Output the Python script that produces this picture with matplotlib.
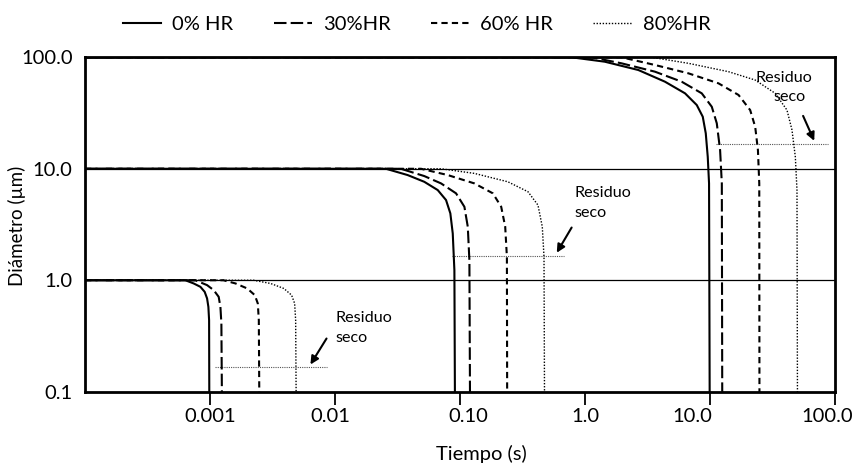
import matplotlib
matplotlib.use("Agg")
import matplotlib.pyplot as plt
import matplotlib.transforms as mtransforms
from matplotlib.ticker import FixedLocator, NullLocator

plt.rcParams['font.family'] = ['Lato', 'DejaVu Sans']

# curvas: tiempo (s) y diametro (um)
# gota de 1 um
t_1_hr0 = [1e-4, 6.35e-4, 7.40e-4, 8.38e-4, 9.07e-4, 9.48e-4, 9.71e-4, 9.84e-4, 9.89e-4]
d_1_hr0 = [1.0, 1.0, 0.936, 0.873, 0.787, 0.687, 0.577, 0.438, 0.05]
t_1_hr30 = [1e-4, 7.63e-4, 9.48e-4, 1.071e-3, 1.174e-3, 1.212e-3, 1.234e-3, 1.251e-3]
d_1_hr30 = [1.0, 1.0, 0.904, 0.815, 0.710, 0.577, 0.409, 0.05]
t_1_hr60 = [1e-4, 1.281e-3, 1.60e-3, 1.986e-3, 2.285e-3, 2.414e-3, 2.46e-3, 2.49e-3]
d_1_hr60 = [1.0, 1.0, 0.936, 0.844, 0.735, 0.619, 0.438, 0.05]
t_1_hr80 = [1e-4, 2.23e-3, 3.05e-3, 3.90e-3, 4.50e-3, 4.76e-3, 4.85e-3, 4.91e-3]
d_1_hr80 = [1.0, 1.0, 0.936, 0.844, 0.735, 0.619, 0.438, 0.05]

# gota de 10 um
t_10_hr0 = [1e-4, 0.0256, 0.0382, 0.0519, 0.0665, 0.0775, 0.0839, 0.0877, 0.0904, 0.0915]
d_10_hr0 = [10.0, 10.0, 8.78, 7.64, 6.44, 5.24, 3.98, 2.63, 1.23, 0.05]
t_10_hr30 = [1e-4, 0.0337, 0.0519, 0.0707, 0.0932, 0.1087, 0.1157, 0.1192, 0.1208]
d_10_hr30 = [10.0, 10.0, 8.60, 7.39, 6.02, 4.56, 3.02, 1.51, 0.05]
t_10_hr60 = [1e-4, 0.0489, 0.0800, 0.1307, 0.1837, 0.2142, 0.2306, 0.2379, 0.2393]
d_10_hr60 = [10.0, 10.0, 8.78, 7.39, 6.02, 4.56, 3.02, 1.62, 0.05]
t_10_hr80 = [1e-4, 0.0707, 0.1307, 0.2423, 0.351, 0.4218, 0.4567, 0.4714, 0.4767]
d_10_hr80 = [10.0, 10.0, 9.09, 7.64, 6.22, 4.72, 3.02, 1.62, 0.05]

# gota de 100 um
t_100_hr0 = [1e-4, 0.781, 1.444, 2.68, 4.38, 6.34, 7.87, 8.79, 9.29, 9.636, 9.87, 10.0]
d_100_hr0 = [100.0, 100.0, 91.3, 76.9, 60.4, 47.5, 37.3, 29.3, 20.8, 12.8, 7.39, 0.05]
t_100_hr30 = [1e-4, 1.13, 1.967, 3.64, 5.96, 8.63, 10.38, 11.38, 12.1, 12.49, 12.6]
d_100_hr30 = [100.0, 100.0, 88.3, 74.3, 60.4, 47.5, 36.0, 25.6, 14.7, 7.39, 0.05]
t_100_hr60 = [1e-4, 1.967, 3.64, 6.75, 11.74, 17.0, 21.06, 23.1, 24.3, 24.9, 25.0]
d_100_hr60 = [100.0, 100.0, 85.3, 71.8, 58.4, 45.9, 33.6, 23.8, 14.7, 7.39, 0.05]
t_100_hr80 = [1e-4, 3.42, 6.75, 14.1, 23.1, 33.4, 41.5, 45.5, 48.4, 49.9, 50.4]
d_100_hr80 = [100.0, 100.0, 88.3, 74.3, 62.5, 47.5, 33.6, 22.3, 12.8, 6.44, 0.05]

# residuo seco (lineas punteadas horizontales)
res_t0 = [1.10e-3, 0.0866, 11.2]
res_t1 = [8.7e-3, 0.682, 88.5]
res_d = [0.166, 1.66, 16.6]

hr_labels = ["0% HR", "30%HR", "60% HR", "80%HR"]
x_ticks = [0.001, 0.01, 0.1, 1.0, 10.0, 100.0]
x_ticklabels = ["0.001", "0.01", "0.10", "1.0", "10.0", "100.0"]
y_ticks = [0.1, 1.0, 10.0, 100.0]
y_ticklabels = ["0.1", "1.0", "10.0", "100.0"]

styles = [
    dict(linestyle='-', linewidth=1.5),
    dict(linestyle=(0, (6, 2)), linewidth=1.5),
    dict(linestyle=(0, (3, 2)), linewidth=1.5),
    dict(linestyle=(0, (1, 1.2)), linewidth=1.0),
]

curves = [
    [(t_1_hr0, d_1_hr0), (t_10_hr0, d_10_hr0), (t_100_hr0, d_100_hr0)],
    [(t_1_hr30, d_1_hr30), (t_10_hr30, d_10_hr30), (t_100_hr30, d_100_hr30)],
    [(t_1_hr60, d_1_hr60), (t_10_hr60, d_10_hr60), (t_100_hr60, d_100_hr60)],
    [(t_1_hr80, d_1_hr80), (t_10_hr80, d_10_hr80), (t_100_hr80, d_100_hr80)],
]

fig = plt.figure(figsize=(8.52, 4.65), dpi=100)
ax = fig.add_axes([0.0998, 0.1576, 0.8799, 0.7192])

ax.set_xscale('log')
ax.set_yscale('log')
ax.set_xlim(1e-4, 100)
ax.set_ylim(0.1, 100)

for y in [1.0, 10.0]:
    ax.axhline(y, color='black', linewidth=0.9, zorder=1)

for i, grupo in enumerate(curves):
    for j, (t, d) in enumerate(grupo):
        ax.plot(t, d, color='black', label=hr_labels[i] if j == 0 else None,
                zorder=3, **styles[i])

for k in range(len(res_d)):
    ax.plot([res_t0[k], res_t1[k]], [res_d[k], res_d[k]], color='#555555',
            linestyle=(0, (1, 1)), linewidth=0.8, zorder=2)

# anotaciones "Residuo seco"
fs = 11.6
ax.text(0.01015, 0.457, "Residuo", fontsize=fs, va='center', ha='left')
ax.text(0.01015, 0.302, "seco", fontsize=fs, va='center', ha='left')
ax.annotate('', xy=(6.2e-3, 0.167), xytext=(8.8e-3, 0.315),
            arrowprops=dict(arrowstyle='-|>', color='black', lw=1.5, mutation_scale=12))
ax.text(0.825, 6.02, "Residuo", fontsize=fs, va='center', ha='left')
ax.text(0.825, 3.98, "seco", fontsize=fs, va='center', ha='left')
ax.annotate('', xy=(0.581, 1.68), xytext=(0.805, 3.12),
            arrowprops=dict(arrowstyle='-|>', color='black', lw=1.5, mutation_scale=12))
ax.text(23.1, 64.8, "Residuo", fontsize=fs, va='center', ha='left')
ax.text(32.4, 44.3, "seco", fontsize=fs, va='center', ha='left')
ax.annotate('', xy=(70.0, 16.9), xytext=(54.7, 31.4),
            arrowprops=dict(arrowstyle='-|>', color='black', lw=1.5, mutation_scale=12))

ax.xaxis.set_major_locator(FixedLocator(x_ticks))
ax.xaxis.set_minor_locator(NullLocator())
ax.set_xticklabels(x_ticklabels)
ax.yaxis.set_major_locator(FixedLocator(y_ticks))
ax.yaxis.set_minor_locator(NullLocator())
ax.set_yticklabels(y_ticklabels)

ax.tick_params(axis='x', direction='out', length=9, width=1.3, pad=3, labelsize=14.5)
ax.tick_params(axis='y', length=0, pad=9, labelsize=14.5)

# las etiquetas del eje x no estan centradas exactamente sobre su marca
desplaz_px = [0, -5, 8, 1, -17, -8]
for lbl, dx in zip(ax.get_xticklabels(), desplaz_px):
    lbl.set_transform(lbl.get_transform() + mtransforms.ScaledTranslation(dx / 100, 0, fig.dpi_scale_trans))

for s in ax.spines.values():
    s.set_linewidth(2.0)

ax.set_xlabel("Tiempo (s)", fontsize=14.5, labelpad=14, x=0.529, ha='center')
ax.set_ylabel("Diámetro (µm)", fontsize=13.5)
ax.yaxis.set_label_coords(-0.079, 0.496)

fig.legend(loc='upper center', bbox_to_anchor=(0.489, 1.005), ncol=4, frameon=False,
           fontsize=14.5, handlelength=1.9, handletextpad=0.55, columnspacing=2.0)

fig.savefig("out.png", dpi=100)
